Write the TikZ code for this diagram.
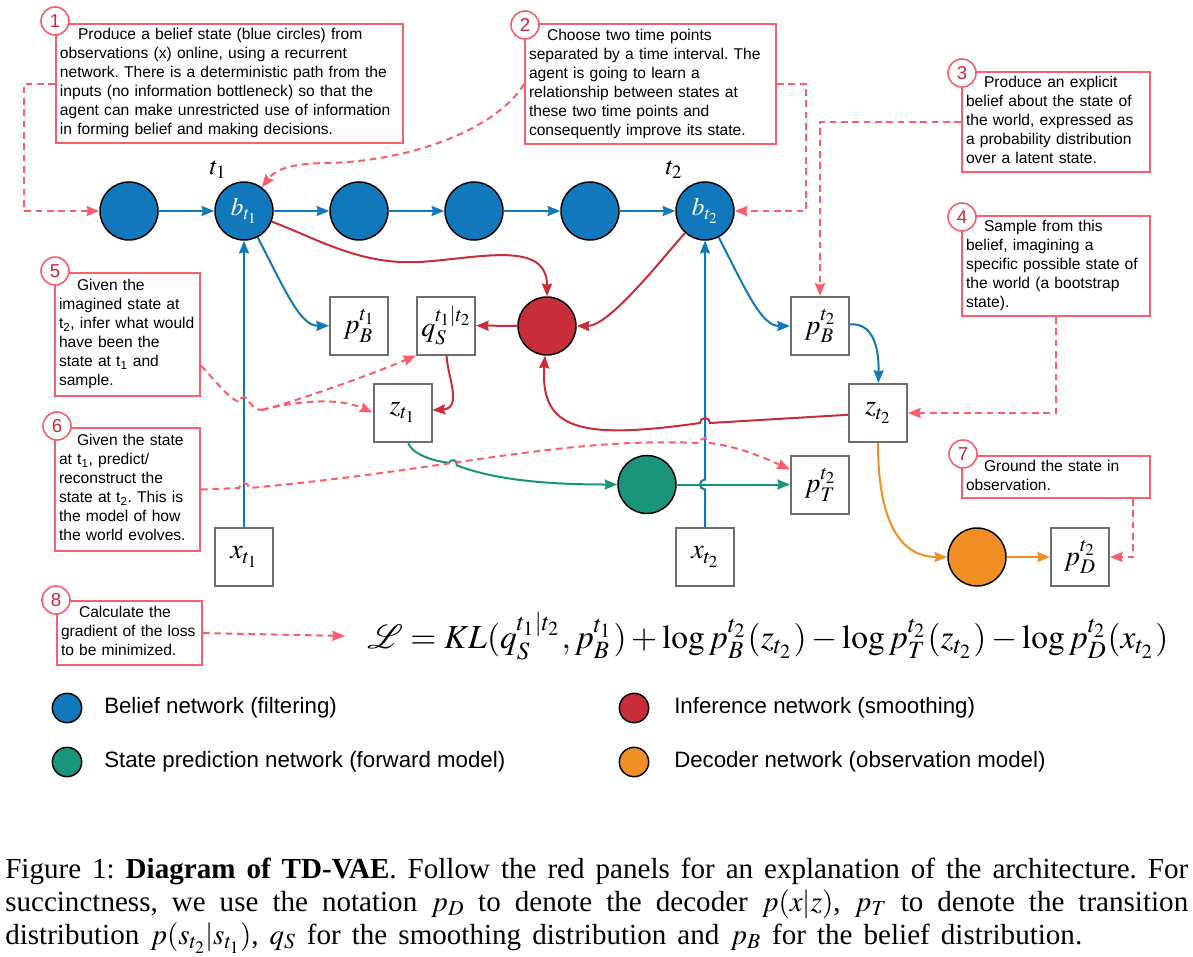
\documentclass[tikz,border=0pt]{standalone}
\usepackage{mathptmx}
\usepackage[no-math]{fontspec}
\usepackage{graphicx}
\setmainfont{Liberation Serif}
\newfontfamily\lsans{Liberation Sans}
\usetikzlibrary{arrows.meta,calc}
\definecolor{cblue}{RGB}{16,120,187}
\definecolor{cred}{RGB}{200,45,58}
\definecolor{cgreen}{RGB}{26,148,122}
\definecolor{corange}{RGB}{240,143,36}
\definecolor{cpink}{RGB}{250,94,108}
\definecolor{cnum}{RGB}{200,40,60}
\definecolor{cgray}{RGB}{110,110,110}
\frenchspacing
\tikzset{
  bc/.style={circle, draw=black, line width=1.1pt, fill=cblue, minimum size=43.5pt, inner sep=0pt, text=white, font=\fontsize{19}{22}\selectfont},
  rc/.style={bc, fill=cred},
  gc/.style={bc, fill=cgreen},
  oc/.style={bc, fill=corange},
  lgc/.style={circle, draw=black, line width=1.1pt, minimum size=22pt, inner sep=0pt},
  box/.style={rectangle, draw=cgray, line width=1.5pt, fill=white, minimum size=43.5pt, inner sep=0pt, font=\fontsize{21}{24}\selectfont},
  tlab/.style={inner sep=0pt, font=\fontsize{19}{22}\selectfont},
  panel/.style={rectangle, draw=cpink, line width=1.5pt, fill=white, inner xsep=3pt, inner ysep=0pt, align=left, font=\lsans\fontsize{11.7}{14.25}\selectfont},
  numc/.style={circle, draw=cpink, line width=1.2pt, fill=white, minimum size=21pt, inner sep=0pt, text=cnum, font=\lsans\fontsize{14}{16}\selectfont},
  legtext/.style={anchor=west, inner sep=0pt, font=\lsans\fontsize{16.7}{20}\selectfont},
  conn/.style={line width=1.5pt, -{Stealth[length=9.5pt,width=7.5pt,inset=1pt]}},
  bl/.style={conn, draw=cblue},
  rd/.style={conn, draw=cred},
  gr/.style={conn, draw=cgreen},
  og/.style={conn, draw=corange},
  pk/.style={conn, draw=cpink, dash pattern=on 5pt off 3.5pt},
  pkl/.style={line width=1.5pt, draw=cpink, dash pattern=on 5pt off 3.5pt}
}
\begin{document}
\begin{tikzpicture}[x=0.75pt,y=-0.75pt]
\useasboundingbox (0,0) rectangle (1193,957);
\fill[white] (0,0) rectangle (1193,957);

% belief row
\node[bc] (c1) at (129,211) {};
\node[bc] (bt1) at (244,211) {$b_{t_1}$};
\node[bc] (c3) at (359,211) {};
\node[bc] (c4) at (474,211) {};
\node[bc] (c5) at (590,211) {};
\node[bc] (bt2) at (705,211) {$b_{t_2}$};
\node[tlab] (lt1) at (218,170) {$t_1$};
\node[tlab] (lt2) at (674,170) {$t_2$};

% boxes and circles
\node[box] (pB1) at (359,325.5) {$p_B^{t_1}$};
\node[box] (qS) at (446,325.5) {$q_S^{t_1|t_2}$};
\node[box] (zt1) at (402.5,412.5) {$z_{t_1}$};
\node[box] (xt1) at (244,557) {$x_{t_1}$};
\node[rc] (red) at (547,326) {};
\node[box] (pB2) at (820,326) {$p_B^{t_2}$};
\node[box] (zt2) at (878,413) {$z_{t_2}$};
\node[box] (pT) at (820,484.5) {$p_T^{t_2}$};
\node[gc] (green) at (647,484.5) {};
\node[box] (xt2) at (705,557) {$x_{t_2}$};
\node[oc] (orange) at (977,557) {};
\node[box] (pD) at (1080,557) {$p_D^{t_2}$};

% panels
\node[panel, text width=254.25pt, minimum height=89.25pt] (p1) at (229.5,83.5) {%
\strut\hspace*{13.5pt}Produce a belief state (blue circles) from\\
\strut observations (x) online, using a recurrent\\
\strut network. There is a deterministic path from the\\
\strut inputs (no information bottleneck) so that the\\
\strut agent can make unrestricted use of information\\
\strut in forming belief and making decisions.};
\node[panel, text width=182.25pt, minimum height=90pt] (p2) at (650.5,84) {%
\strut\hspace*{13.5pt}Choose two time points\\
\strut separated by a time interval. The\\
\strut agent is going to learn a\\
\strut relationship between states at\\
\strut these two time points and\\
\strut consequently improve its state.};
\node[panel, text width=135pt, minimum height=75pt] (p3) at (1056,122) {%
\strut\hspace*{13.5pt}Produce an explicit\\
\strut belief about the state of\\
\strut the world, expressed as\\
\strut a probability distribution\\
\strut over a latent state.};
\node[panel, text width=135pt, minimum height=75pt] (p4) at (1056,266) {%
\strut\hspace*{13.5pt}Sample from this\\
\strut belief, imagining a\\
\strut specific possible state of\\
\strut the world (a bootstrap\\
\strut state).};
\node[panel, text width=102.75pt, minimum height=92.25pt] (p5) at (127.5,334.5) {%
\strut\hspace*{13.5pt}Given the\\
\strut imagined state at\\
\mbox{\strut t\textsubscript{2}, infer what would}\\
\strut have been the\\
\strut state at t\textsubscript{1} and\\
\strut sample.};
\node[panel, text width=102.75pt, minimum height=92.25pt] (p6) at (127.5,489.5) {%
\strut\hspace*{13.5pt}Given the state\\
\strut at t\textsubscript{1}, predict/\\
\strut reconstruct the\\
\mbox{\strut state at t\textsubscript{2}. This is}\\
\strut the model of how\\
\strut the world evolves.};
\node[panel, text width=135pt, minimum height=31.5pt] (p7) at (1056,477) {%
\strut\hspace*{13.5pt}Ground the state in\\
\strut observation.};
\node[panel, text width=102.75pt, minimum height=48pt] (p8) at (129.5,633) {%
\strut\hspace*{13.5pt}Calculate the\\
\mbox{\strut gradient of the loss}\\
\strut to be minimized.};

\node[numc] (n1) at (55,21) {1};
\node[numc] (n2) at (525,25) {2};
\node[numc] (n3) at (962,73) {3};
\node[numc] (n4) at (962,217) {4};
\node[numc] (n5) at (55,271) {5};
\node[numc] (n6) at (57,426) {6};
\node[numc] (n7) at (963,454) {7};
\node[numc] (n8) at (56,600) {8};

% equation
\node[anchor=west, inner xsep=16.5pt, inner ysep=0pt] (eq) at (345,636)
  {\resizebox{600.75pt}{!}{$\mathcal{L} = KL(q_S^{t_1|t_2}, p_B^{t_1}) + \log p_B^{t_2}(z_{t_2}) - \log p_T^{t_2}(z_{t_2}) - \log p_D^{t_2}(x_{t_2})$}};

% blue connectors
\draw[bl] (c1) -- (bt1);
\draw[bl] (bt1) -- (c3);
\draw[bl] (c3) -- (c4);
\draw[bl] (c4) -- (c5);
\draw[bl] (c5) -- (bt2);
\draw[bl] (xt1) -- (bt1);
\draw[bl] (xt2.north) -- (705,489.5) arc[start angle=90, end angle=270, radius=5] -- (bt2);
\draw[bl] (bt1) .. controls (285,290) and (300,326) .. (pB1);
\draw[bl] (bt2) .. controls (746,290) and (761,326) .. (pB2);
\draw[bl] (pB2) .. controls (872,323) and (879,345) .. (zt2);

% red connectors
\draw[rd] (bt1) .. controls (320,240) and (360,265) .. (420,262) .. controls (480,258) and (547,240) .. (red);
\draw[rd] (bt2) .. controls (665,255) and (610,326) .. (red);
\draw[rd] (red) -- (qS);
\draw[rd] (qS) .. controls (447,375) and (463,408) .. (zt1);
\draw[rd] (zt2) -- (710,423) arc[start angle=0, end angle=-180, radius=5] .. controls (580,440) and (540,430) .. (red);

% green connectors
\draw[gr] (zt1) .. controls (410,452) and (430,461) .. (449.2,462.7) arc[start angle=199.3, end angle=379.3, radius=4] .. controls (500,482) and (560,484.5) .. (green);
\draw[gr] (green) -- (pT);

% orange connectors
\draw[og] (zt2) .. controls (878,530) and (905,557) .. (orange);
\draw[og] (orange) -- (pD);

% pink dashed connectors
\draw[pk] (p1.west) -- ++(-31,0) |- (c1);
\draw[pk] (p2.west) .. controls (500,125) and (420,160) .. (330,163) .. controls (290,163) and (275,170) .. (bt1);
\draw[pk] (p2.east) -- ++(29,0) |- (bt2);
\draw[pk] (p3.west) -| (pB2);
\draw[pk] (p4.south) |- (zt2);
\coordinate (j5) at (262,410);
\draw[pkl] ($(p5.north east)!0.75!(p5.south east)$) .. controls (215,380) and (228,398) .. (239,402) arc[start angle=180, end angle=360, radius=5] .. controls (253,406) and (256,410) .. (j5);
\draw[pk] (j5) .. controls (300,400) and (340,398) .. (zt1.west);
\draw[pk] (j5) .. controls (300,400) and (370,375) .. (qS.south west);
\draw[pk] (p6.east) -- (239,488) arc[start angle=180, end angle=360, radius=5] .. controls (450,470) and (560,437) .. (700,443) arc[start angle=180, end angle=360, radius=5] .. controls (740,447) and (765,458) .. ($(pT.north west)!0.25!(pT.south west)$);
\draw[pk] ($(p7.south east)+(-18,0)$) |- (pD);
\draw[pk] (p8.east) -- (eq.west);

% legend
\node[lgc, fill=cblue] (lg1) at (67,708) {};
\node[legtext] (lt1t) at (104,708) {Belief network (filtering)};
\node[lgc, fill=cred] (lg2) at (634,708) {};
\node[legtext] (lt2t) at (674,708) {Inference network (smoothing)};
\node[lgc, fill=cgreen] (lg3) at (67,762) {};
\node[legtext] (lt3t) at (104,762) {State prediction network (forward model)};
\node[lgc, fill=corange] (lg4) at (634,762) {};
\node[legtext] (lt4t) at (674,762) {Decoder network (observation model)};

% caption
\node[anchor=north west, inner sep=0pt, align=left, font=\fontsize{21.8}{24.75}\selectfont] (cap) at (5,855) {%
\makebox[887.25pt][s]{\strut Figure 1: \textbf{Diagram of TD-VAE}. Follow the red panels for an explanation of the architecture. For}\\
\makebox[887.25pt][s]{\strut succinctness, we use the notation $p_D$ to denote the decoder $p(x|z)$, $p_T$ to denote the transition}\\
\makebox[807.75pt][s]{\strut distribution $p(s_{t_2}|s_{t_1})$, $q_S$ for the smoothing distribution and $p_B$ for the belief distribution.}};
\end{tikzpicture}
\end{document}
